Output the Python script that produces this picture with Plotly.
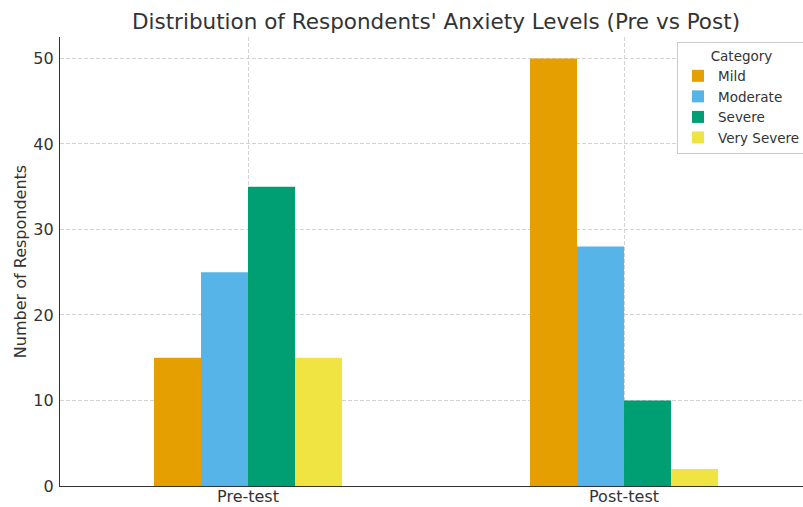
import plotly.graph_objects as go

# Survey groups and anxiety-level counts
groups = ["Pre-test", "Post-test"]
categories = ["Mild", "Moderate", "Severe", "Very Severe"]
mild = [15, 50]
moderate = [25, 28]
severe = [35, 10]
very_severe = [15, 2]

series = [mild, moderate, severe, very_severe]
colors = ["#E69F00", "#56B4E9", "#009E73", "#F0E442"]

FONT = "DejaVu Sans"
TEXT = "#333333"
GRID = "#d3d3d3"

fig = go.Figure()
for name, vals, col in zip(categories, series, colors):
    fig.add_trace(go.Bar(
        x=[0, 1], y=vals, name=name,
        marker=dict(color=col, line=dict(width=0)),
    ))

fig.update_layout(
    width=803, height=507,
    margin=dict(l=60, r=0, t=37, b=21, autoexpand=False),
    paper_bgcolor="white", plot_bgcolor="white",
    font=dict(family=FONT, color=TEXT),
    barmode="group", bargap=0.5, bargroupgap=0,
    title=dict(
        text="Distribution of Respondents' Anxiety Levels (Pre vs Post)",
        x=436 / 803, xanchor="center", y=1 - 21 / 507, yanchor="middle",
        font=dict(size=21.5, color=TEXT, family=FONT),
    ),
    xaxis=dict(
        range=[-0.5, 1.476], tickvals=[0, 1], ticktext=groups,
        showgrid=True, gridcolor=GRID, griddash="4px,2px", gridwidth=1,
        showline=True, linecolor="#333333", linewidth=1.3,
        ticks="", ticklabelstandoff=-4,
        tickfont=dict(size=16, color=TEXT), zeroline=False,
    ),
    yaxis=dict(
        range=[0, 52.5], tickvals=[0, 10, 20, 30, 40, 50],
        showgrid=True, gridcolor=GRID, griddash="4px,2px", gridwidth=1,
        showline=True, linecolor="#333333", linewidth=1.3,
        ticks="", ticklabelstandoff=2,
        tickfont=dict(size=16, color=TEXT), zeroline=False,
        title=dict(text="Number of Respondents", font=dict(size=16, color=TEXT), standoff=2),
    ),
    legend=dict(
        title=dict(text="Category", side="top center", font=dict(size=13.5, color=TEXT)),
        x=(677 - 60) / 743, xanchor="left", y=(486 - 42) / 449, yanchor="top",
        bgcolor="white", bordercolor="#cccccc", borderwidth=1,
        font=dict(size=13.5, color=TEXT), tracegroupgap=0, itemwidth=30,
    ),
    showlegend=True,
)

fig.write_html("out.html")
